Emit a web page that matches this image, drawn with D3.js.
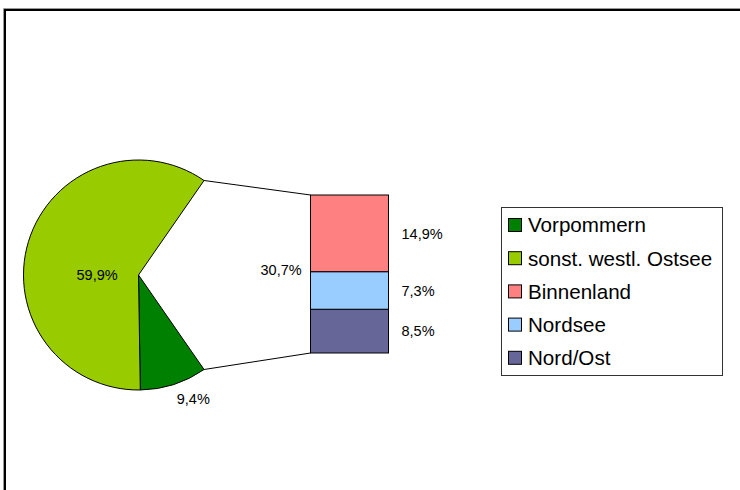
<!DOCTYPE html>
<html><head><meta charset="utf-8">
<script src="https://cdn.jsdelivr.net/npm/d3@7"></script>
<style>body{margin:0;background:#fff}svg{display:block;font-family:"Liberation Sans",Arial,sans-serif}</style>
</head><body>
<svg id="c" width="740" height="490"></svg>
<script>
// Pie slices (clockwise from the "other" slice)
const pieCategories = ["Andere", "Vorpommern", "sonst. westl. Ostsee"];
const pieValues = [30.7, 9.4, 59.9];
const pieLabels = ["30,7%", "9,4%", "59,9%"];
// Secondary bar (bottom to top)
const barCategories = ["Nord/Ost", "Nordsee", "Binnenland"];
const barValues = [8.5, 7.3, 14.9];
const barLabels = ["8,5%", "7,3%", "14,9%"];
// Legend
const legendNames = ["Vorpommern", "sonst. westl. Ostsee", "Binnenland", "Nordsee", "Nord/Ost"];
const colors = {"Vorpommern":"#008000","sonst. westl. Ostsee":"#99CC00","Binnenland":"#FF8080","Nordsee":"#99CCFF","Nord/Ost":"#666699","Andere":"none"};

const svg = d3.select("#c");
// outer frame
svg.append("rect").attr("x",5).attr("y",10).attr("width",800).attr("height",600)
  .attr("fill","none").attr("stroke","#000").attr("stroke-width",2);
svg.append("line").attr("x1",3.5).attr("x2",740).attr("y1",8.5).attr("y2",8.5).attr("stroke","#999").attr("stroke-width",1);
svg.append("line").attr("x1",3.5).attr("x2",3.5).attr("y1",8.5).attr("y2",490).attr("stroke","#999").attr("stroke-width",1);

const cx = 138.5, cy = 275, r = 115;
const otherShare = pieValues[0] / d3.sum(pieValues);
const start = Math.PI/2 - otherShare*Math.PI;
const pie = d3.pie().sort(null).startAngle(start).endAngle(start + 2*Math.PI);
const arcs = pie(pieValues);
const arc = d3.arc().innerRadius(0).outerRadius(r);
const g = svg.append("g").attr("transform",`translate(${cx},${cy})`);
g.selectAll("path").data(arcs).join("path")
  .attr("d", arc)
  .attr("fill", (d,i) => colors[pieCategories[i]] === "none" ? "none" : colors[pieCategories[i]])
  .attr("stroke", (d,i) => i === 0 ? "none" : "#000")
  .attr("stroke-width", 1);

// bar
const barX = 310.5, barW = 78, barTop = 195, barBottom = 353;
const y = d3.scaleLinear().domain([0, d3.sum(barValues)]).range([barBottom, barTop]);
const stackData = [Object.fromEntries(barCategories.map((c,i)=>[c,barValues[i]]))];
const series = d3.stack().keys(barCategories)(stackData);
svg.selectAll("rect.bar").data(series).join("rect").attr("class","bar")
  .attr("x", barX).attr("width", barW)
  .attr("y", d => y(d[0][1])).attr("height", d => y(d[0][0]) - y(d[0][1]))
  .attr("fill", d => colors[d.key]).attr("stroke","#000").attr("stroke-width",1);

// connector lines
const a0 = arcs[0].startAngle, a1 = arcs[0].endAngle;
const pt = a => [cx + r*Math.sin(a), cy - r*Math.cos(a)];
const p0 = pt(a0), p1 = pt(a1);
svg.append("line").attr("x1",p0[0]).attr("y1",p0[1]).attr("x2",barX).attr("y2",y(d3.sum(barValues))).attr("stroke","#000");
svg.append("line").attr("x1",p1[0]).attr("y1",p1[1]).attr("x2",barX).attr("y2",y(0)).attr("stroke","#000");

// data labels
const fs = 14.5;
series.forEach((s,i) => {
  svg.append("text").attr("x", barX + barW + 13).attr("y", (y(s[0][0]) + y(s[0][1]))/2)
    .attr("dy","0.36em").attr("font-size",fs).text(barLabels[i]);
});
// other label
const mid0 = (a0+a1)/2;
svg.append("text").attr("x", cx + 1.24*r*Math.sin(mid0)).attr("y", cy - 1.24*r*Math.cos(mid0))
  .attr("dy","0.0em").attr("text-anchor","middle").attr("font-size",fs).text(pieLabels[0]);
// Vorpommern label (outside)
const mid1 = (arcs[1].startAngle + arcs[1].endAngle)/2;
svg.append("text").attr("x", cx + 1.13*r*Math.sin(mid1) + 15).attr("y", cy - 1.13*r*Math.cos(mid1))
  .attr("dy","0.36em").attr("text-anchor","middle").attr("font-size",fs).text(pieLabels[1]);
// green label (inside)
svg.append("text").attr("x", cx - 0.36*r).attr("y", cy)
  .attr("dy","0.36em").attr("text-anchor","middle").attr("font-size",fs).text(pieLabels[2]);

// legend
const lg = svg.append("g");
lg.append("rect").attr("x",501.5).attr("y",207.5).attr("width",221).attr("height",168)
  .attr("fill","#fff").attr("stroke","#333").attr("stroke-width",1);
legendNames.forEach((n,i) => {
  const yy = 225 + 33.2*i;
  lg.append("rect").attr("x",508.5).attr("y",yy-6.5).attr("width",13).attr("height",13)
    .attr("fill",colors[n]).attr("stroke","#000");
  lg.append("text").attr("x",528).attr("y",yy).attr("dy","0.36em").attr("font-size",20.6).text(n);
});
</script>
</body></html>
